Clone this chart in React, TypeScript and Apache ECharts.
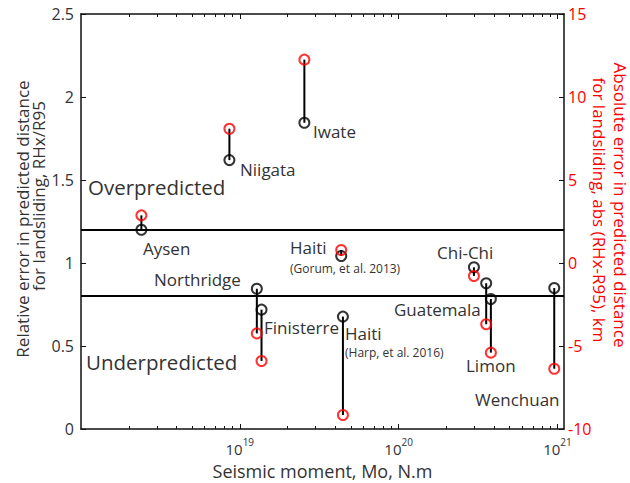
import React, { useEffect, useRef } from 'react';
import * as echarts from 'echarts';

// ---- Data ----
const eventNames = ['Aysen', 'Niigata', 'Iwate', 'Haiti (Gorum)', 'Chi-Chi', 'Northridge', 'Finisterre', 'Haiti (Harp)', 'Guatemala', 'Limon', 'Wenchuan'];
const seismicMoment = [2.4e18, 8.6e18, 2.55e19, 4.35e19, 2.98e20, 1.28e19, 1.37e19, 4.46e19, 3.56e20, 3.81e20, 9.55e20];
const relativeError = [1.2, 1.62, 1.845, 1.042, 0.974, 0.845, 0.719, 0.677, 0.878, 0.783, 0.849];
const absoluteError = [2.87, 8.09, 12.25, 0.78, -0.78, -4.24, -5.9, -9.16, -3.69, -5.4, -6.37];
const thresholds = [1.2, 0.8];

const majorMoments = [1e19, 1e20, 1e21];
const minorDecades = [18, 19, 20];
const minorMultipliers = [2, 3, 4, 5, 6, 7, 8, 9];

const X_MIN = 1e18;
const X_MAX = 1.1e21;
const L_MIN = 0;
const L_MAX = 2.5;
const L_STEP = 0.5;
const R_MIN = -10;
const R_MAX = 15;
const R_STEP = 5;

// ---- Annotation texts ----
const annotations = [
  { text: 'Iwate', x: 313, y: 131, size: 17 },
  { text: 'Niigata', x: 240, y: 169, size: 17 },
  { text: 'Overpredicted', x: 88, y: 187, size: 20.5 },
  { text: 'Aysen', x: 143, y: 248, size: 17 },
  { text: 'Haiti', x: 290, y: 247.5, size: 17 },
  { text: '(Gorum, et al. 2013)', x: 290, y: 268, size: 12 },
  { text: 'Chi-Chi', x: 437, y: 252, size: 17 },
  { text: 'Northridge', x: 154, y: 279, size: 17 },
  { text: 'Guatemala', x: 394, y: 309, size: 17 },
  { text: 'Finisterre', x: 264, y: 327, size: 17 },
  { text: 'Haiti', x: 345, y: 333, size: 17 },
  { text: '(Harp, et al. 2016)', x: 345, y: 352, size: 12 },
  { text: 'Underpredicted', x: 86, y: 362, size: 20.5 },
  { text: 'Limon', x: 466, y: 365, size: 17 },
  { text: 'Wenchuan', x: 475, y: 399, size: 17 },
];

const FONT = '"Open Sans", "Noto Sans", sans-serif';
const TEXT = '#333333';
const AXIS = '#111111';
const RED = '#ff0000';
const TITLE_SIZE = 17;

const minorMoments: number[] = [];
minorDecades.forEach((d) => minorMultipliers.forEach((k) => minorMoments.push(k * Math.pow(10, d))));

const toLeft = (v: number) => L_MIN + ((v - R_MIN) * (L_MAX - L_MIN)) / (R_MAX - R_MIN);

export default function App() {
  const ref = useRef<HTMLDivElement>(null);
  useEffect(() => {
    if (!ref.current) return;
    const chart = echarts.init(ref.current, null, { renderer: 'svg' });

    const baseX = {
      type: 'log' as const,
      logBase: 10,
      min: X_MIN,
      max: X_MAX,
      splitLine: { show: false },
      axisLine: { onZero: false, lineStyle: { color: AXIS, width: 1.5 } },
    };

    const option: any = {
      animation: false,
      backgroundColor: '#ffffff',
      textStyle: { fontFamily: FONT },
      grid: { left: 81, right: 66, top: 14, bottom: 54, containLabel: false, outerBoundsMode: 'none' },
      xAxis: [
        {
          ...baseX,
          position: 'bottom',
          name: 'Seismic moment, Mo, N.m',
          nameLocation: 'middle',
          nameGap: 33,
          nameMoveOverlap: false,
          nameTextStyle: { color: TEXT, fontSize: 18, lineHeight: 18, fontFamily: FONT },
          axisTick: { show: true, inside: true, length: 5, customValues: majorMoments, lineStyle: { color: AXIS } },
          axisLabel: {
            show: true,
            customValues: majorMoments,
            margin: 8,
            formatter: (v: number) => `{b|10}{s|${Math.round(Math.log10(v))}}`,
            rich: {
              b: { fontSize: 15, color: TEXT, fontFamily: FONT, verticalAlign: 'bottom', lineHeight: 19 },
              s: { fontSize: 10, color: TEXT, fontFamily: FONT, verticalAlign: 'top', lineHeight: 19 },
            },
          },
        },
        {
          ...baseX,
          position: 'bottom',
          axisLine: { show: false, onZero: false },
          axisTick: { show: true, inside: true, length: 3, customValues: minorMoments, lineStyle: { color: AXIS } },
          axisLabel: { show: false },
        },
        {
          ...baseX,
          position: 'top',
          axisTick: { show: true, inside: true, length: 5, customValues: majorMoments, lineStyle: { color: AXIS } },
          axisLabel: { show: false },
        },
        {
          ...baseX,
          position: 'top',
          axisLine: { show: false, onZero: false },
          axisTick: { show: true, inside: true, length: 3, customValues: minorMoments, lineStyle: { color: AXIS } },
          axisLabel: { show: false },
        },
      ],
      yAxis: [
        {
          type: 'value',
          position: 'left',
          min: L_MIN,
          max: L_MAX,
          interval: L_STEP,
          splitLine: { show: false },
          axisLine: { show: true, onZero: false, lineStyle: { color: AXIS, width: 1.5 } },
          axisTick: { show: true, inside: true, length: 5, lineStyle: { color: AXIS } },
          axisLabel: { color: TEXT, fontSize: 16, fontFamily: FONT, margin: 7 },
        },
        {
          type: 'value',
          position: 'right',
          min: R_MIN,
          max: R_MAX,
          interval: R_STEP,
          splitLine: { show: false },
          axisLine: { show: true, onZero: false, lineStyle: { color: AXIS, width: 1.5 } },
          axisTick: { show: true, inside: true, length: 5, lineStyle: { color: AXIS } },
          axisLabel: { color: RED, fontSize: 16, fontFamily: FONT, margin: 4 },
        },
      ],
      series: [
        {
          type: 'custom',
          name: 'stems',
          xAxisIndex: 0,
          yAxisIndex: 0,
          encode: { x: 0, y: [1, 2] },
          data: seismicMoment.map((m, i) => [m, relativeError[i], toLeft(absoluteError[i])]),
          renderItem: (_p: any, api: any) => {
            const a = api.coord([api.value(0), api.value(1)]);
            const b = api.coord([api.value(0), api.value(2)]);
            return {
              type: 'line',
              shape: { x1: a[0], y1: a[1], x2: b[0], y2: b[1] },
              style: { stroke: '#000', lineWidth: 2 },
            };
          },
          z: 2,
        },
        {
          type: 'scatter',
          name: 'Relative error',
          xAxisIndex: 0,
          yAxisIndex: 0,
          symbol: 'circle',
          symbolSize: 10,
          itemStyle: { color: 'rgba(0,0,0,0)', borderColor: '#000', borderWidth: 2 },
          data: seismicMoment.map((m, i) => ({ name: eventNames[i], value: [m, relativeError[i]] })),
          markLine: {
            silent: true,
            symbol: ['none', 'none'],
            label: { show: false },
            lineStyle: { color: '#000', width: 2, type: 'solid' },
            data: thresholds.map((t) => ({ yAxis: t })),
          },
          z: 3,
        },
        {
          type: 'scatter',
          name: 'Absolute error',
          xAxisIndex: 0,
          yAxisIndex: 1,
          symbol: 'circle',
          symbolSize: 10,
          itemStyle: { color: 'rgba(0,0,0,0)', borderColor: RED, borderWidth: 2 },
          data: seismicMoment.map((m, i) => ({ name: eventNames[i], value: [m, absoluteError[i]] })),
          z: 3,
        },
      ],
      graphic: [
        ...annotations.map((a) => ({
          type: 'text',
          x: a.x,
          y: a.y,
          silent: true,
          style: { text: a.text, fill: TEXT, fontSize: a.size, fontFamily: FONT, align: 'left', verticalAlign: 'middle' },
        })),
        {
          type: 'text', x: 22, y: 219, rotation: Math.PI / 2, silent: true,
          style: { text: 'Relative error in predicted distance', fill: TEXT, fontSize: TITLE_SIZE, fontFamily: FONT, align: 'center', verticalAlign: 'middle' },
        },
        {
          type: 'text', x: 38, y: 196, rotation: Math.PI / 2, silent: true,
          style: { text: 'for landsliding, RHx/R95', fill: TEXT, fontSize: TITLE_SIZE, fontFamily: FONT, align: 'center', verticalAlign: 'middle' },
        },
        {
          type: 'text', x: 620, y: 205, rotation: -Math.PI / 2, silent: true,
          style: { text: 'Absolute error in predicted distance', fill: RED, fontSize: TITLE_SIZE, fontFamily: FONT, align: 'center', verticalAlign: 'middle' },
        },
        {
          type: 'text', x: 599, y: 210, rotation: -Math.PI / 2, silent: true,
          style: { text: 'for landsliding, abs (RHx-R95), km', fill: RED, fontSize: TITLE_SIZE, fontFamily: FONT, align: 'center', verticalAlign: 'middle' },
        },
      ],
    };

    chart.setOption(option);
    return () => chart.dispose();
  }, []);

  return <div ref={ref} style={{ position: 'fixed', left: 0, top: 0, width: 630, height: 483 }} />;
}
